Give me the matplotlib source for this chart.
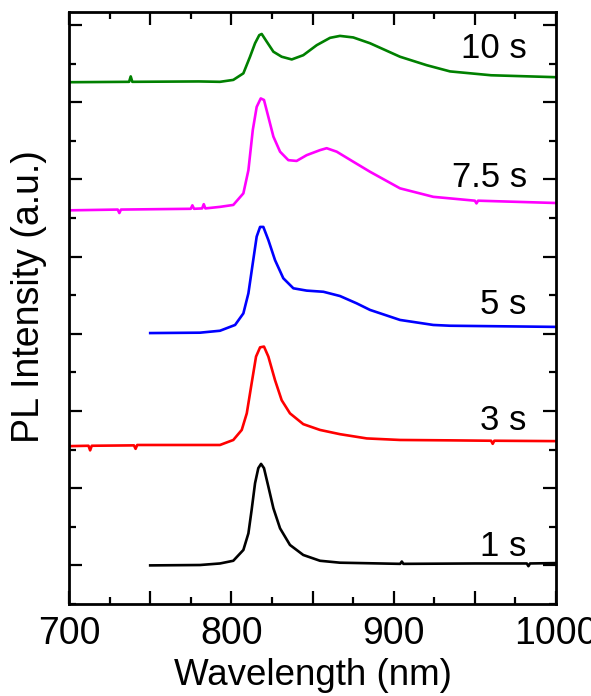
import matplotlib.pyplot as plt
from matplotlib.ticker import MultipleLocator, FuncFormatter

plt.rcParams['font.family'] = ['Liberation Sans', 'DejaVu Sans']

# PL spectra, stacked with offsets
wl_1s = [750, 780.7, 793.0, 801.2, 807.4, 810.5, 812.5, 814.6, 816.6, 818.3,
         820.1, 822.8, 825.9, 830.0, 836.1, 844.3, 854.6, 866.9, 904, 905, 906,
         950, 982, 983, 984, 1000]
pl_1s = [1.00, 1.01, 1.05, 1.12, 1.40, 1.83, 2.44, 3.13, 3.52, 3.63,
         3.52, 3.04, 2.48, 1.96, 1.53, 1.27, 1.12, 1.07, 1.04, 1.10, 1.04,
         1.05, 1.05, 0.98, 1.05, 1.06]

wl_3s = [700, 712, 713, 714, 740, 741, 742, 780.7, 793.0, 801.2, 806.4, 809.5,
         812.5, 815.2, 817.7, 820.1, 822.8, 826.9, 831.0, 836.1, 844.3, 854.6,
         866.9, 883.4, 903.9, 934.7, 960, 961, 962, 1000]
pl_3s = [4.09, 4.10, 3.98, 4.10, 4.11, 4.02, 4.12, 4.12, 4.12, 4.25, 4.51, 4.94,
         5.72, 6.41, 6.65, 6.67, 6.41, 5.80, 5.28, 4.94, 4.66, 4.51,
         4.40, 4.29, 4.25, 4.24, 4.23, 4.15, 4.23, 4.22]

wl_5s = [750, 780.7, 793.0, 802.3, 807.4, 810.5, 813.2, 815.6, 817.7, 819.7,
         822.8, 826.9, 832.0, 838.2, 846.4, 856.7, 866.9, 877.2, 885.4, 903.9,
         924.4, 934.7, 1000]
pl_5s = [7.02, 7.03, 7.08, 7.23, 7.53, 8.05, 8.83, 9.52, 9.77, 9.77,
         9.43, 8.91, 8.44, 8.18, 8.12, 8.09, 7.98, 7.79, 7.62, 7.36,
         7.23, 7.21, 7.18]

wl_75s = [700, 730, 731, 732, 775, 776, 777, 782, 783, 784, 793.0, 801.2, 807.4,
          810.5, 813.2, 815.6, 818.1, 820.1, 822.8, 825.9, 830.0, 835.1, 840.2,
          846.4, 854.6, 858.7, 864.9, 875.1, 885.4, 903.9, 924.4, 934.7, 950,
          951, 952, 1000]
pl_75s = [10.20, 10.22, 10.13, 10.22, 10.24, 10.33, 10.24, 10.25, 10.36, 10.25,
          10.29, 10.34, 10.64, 11.24, 12.28, 12.88, 13.10, 13.06, 12.62, 12.11,
          11.72, 11.50, 11.48, 11.63, 11.76, 11.81, 11.72, 11.46, 11.20, 10.77,
          10.55, 10.51, 10.45, 10.38, 10.45, 10.39]

wl_10s = [700, 737, 738, 739, 780, 793.0, 801.2, 807.4, 811.5, 814.6, 817.2,
          818.7, 821.8, 825.9, 831.0, 837.2, 844.3, 852.6, 860.8, 866.9, 875.1,
          885.4, 903.9, 920.4, 934.7, 960, 1000]
pl_10s = [13.52, 13.53, 13.67, 13.53, 13.54, 13.53, 13.58, 13.75, 14.18, 14.53,
          14.74, 14.77, 14.57, 14.31, 14.18, 14.11, 14.22, 14.48, 14.67, 14.72,
          14.68, 14.53, 14.18, 13.96, 13.80, 13.70, 13.65]

labels = ['1 s', '3 s', '5 s', '7.5 s', '10 s']
label_y = [1.48, 4.75, 7.76, 11.04, 14.40]
colors = ['black', 'red', 'blue', 'magenta', 'green']

fig = plt.figure(figsize=(5.91, 6.96), dpi=100)
ax = fig.add_axes([0.1168, 0.1322, 0.824, 0.8506])

series = [(wl_1s, pl_1s), (wl_3s, pl_3s), (wl_5s, pl_5s), (wl_75s, pl_75s), (wl_10s, pl_10s)]
for (x, y), c, lab, ly in zip(series, colors, labels, label_y):
    ax.plot(x, y, color=c, lw=1.9, solid_joinstyle='round')
    ax.text(982, ly, lab, ha='right', va='center', fontsize=25)

ax.set_xlim(700, 1000)
ax.set_ylim(0, 15.34)

ax.xaxis.set_major_locator(MultipleLocator(50))
ax.xaxis.set_minor_locator(MultipleLocator(25))
ax.xaxis.set_major_formatter(FuncFormatter(lambda v, p: f"{v:.0f}" if round(v) % 100 == 0 else ""))
ax.yaxis.set_major_locator(MultipleLocator(2, offset=1))
ax.yaxis.set_minor_locator(MultipleLocator(1))
ax.set_yticklabels([])

ax.tick_params(which='both', direction='in', top=True, right=True, width=1.6)
ax.tick_params(which='major', length=9.5, labelsize=27, pad=9)
ax.tick_params(which='minor', length=5)
for s in ax.spines.values():
    s.set_linewidth(2.0)

ax.set_xlabel('Wavelength (nm)', fontsize=26.5, labelpad=4)
ax.set_ylabel('PL Intensity (a.u.)', fontsize=27)
ax.yaxis.set_label_coords(-0.045, 0.52)

fig.savefig('out.png', dpi=100)
